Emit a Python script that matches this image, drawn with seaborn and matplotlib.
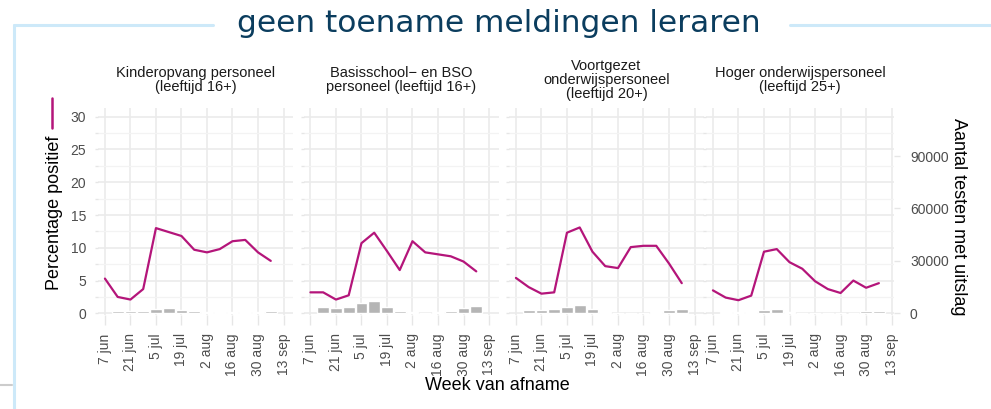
import pandas as pd
import numpy as np
import matplotlib.pyplot as plt
from matplotlib.lines import Line2D
from matplotlib.ticker import MultipleLocator
import seaborn as sns

# weekly data, week of sampling
weken = pd.date_range("2020-06-07", periods=14, freq="7D")
bar_weken = weken[1:]
tick_datums = pd.date_range("2020-06-07", periods=8, freq="14D")
tick_labels = ["7 jun", "21 jun", "5 jul", "19 jul", "2 aug", "16 aug", "30 aug", "13 sep"]

groepen = ["Kinderopvang personeel\n(leeftijd 16+)",
           "Basisschool\u2212 en BSO\npersoneel (leeftijd 16+)",
           "Voortgezet\nonderwijspersoneel\n(leeftijd 20+)",
           "Hoger onderwijspersoneel\n(leeftijd 25+)"]

# percentage positief
pct_kinderopvang = [5.3, 2.5, 2.1, 3.7, 13.0, 12.4, 11.8, 9.7, 9.3, 9.8, 11.0, 11.2, 9.3, 8.0]
pct_basis = [3.2, 3.2, 2.1, 2.75, 10.7, 12.3, 9.5, 6.6, 11.0, 9.3, 9.0, 8.7, 7.9, 6.4]
pct_vo = [5.4, 4.0, 3.0, 3.2, 12.3, 13.1, 9.4, 7.2, 6.9, 10.1, 10.3, 10.3, 7.6, 4.6]
pct_ho = [3.5, 2.4, 2.0, 2.7, 9.4, 9.8, 7.8, 6.8, 4.9, 3.7, 3.1, 5.0, 3.9, 4.6]

# aantal testen met uitslag
testen_kinderopvang = [1100, 1100, 1600, 2500, 3300, 2100, 1200, 650, 600, 600, 600, 650, 1100]
testen_basis = [3450, 3100, 3450, 5900, 7300, 3800, 1550, 560, 380, 560, 1350, 2900, 4000]
testen_vo = [1900, 1900, 2250, 3750, 4500, 2250, 560, 250, 250, 250, 560, 1700, 2600]
testen_ho = [750, 750, 750, 1700, 2250, 750, 400, 400, 400, 400, 400, 1100, 1100]

pct_series = [pct_kinderopvang, pct_basis, pct_vo, pct_ho]
testen_series = [testen_kinderopvang, testen_basis, testen_vo, testen_ho]

lijnen = pd.concat([pd.DataFrame({"groep": g, "week": weken, "pct": p})
                    for g, p in zip(groepen, pct_series)])
staven = pd.concat([pd.DataFrame({"groep": g, "week": bar_weken, "testen": t})
                    for g, t in zip(groepen, testen_series)])

SCHAAL = 3750  # secondary axis: testen = pct * SCHAAL
MAGENTA = "#b4157a"
GRIJS = "#b5b5b5"

sns.set_theme(style="whitegrid")
plt.rcParams["font.family"] = ["Liberation Sans", "DejaVu Sans"]

W, H = 991, 409
fig = plt.figure(figsize=(W / 100, H / 100), dpi=100)

links = [98, 303.5, 509, 706]
breedtes = [195, 195, 195, 188]
onder, boven = 314.5, 108.3

x_lo = weken[0] - pd.Timedelta(days=3.8)
x_his = [tick_datums[-1] + pd.Timedelta(days=d) for d in (5.2, 5.2, 5.2, 1.3)]

for i, (g, x0) in enumerate(zip(groepen, links)):
    ax = fig.add_axes([x0 / W, 1 - onder / H, breedtes[i] / W, (onder - boven) / H])
    sub_b = staven[staven.groep == g]
    ax.bar(sub_b.week, sub_b.testen / SCHAAL, width=6.4, color=GRIJS, zorder=2)
    sub_l = lijnen[lijnen.groep == g]
    sns.lineplot(data=sub_l, x="week", y="pct", ax=ax, color=MAGENTA, lw=1.6, zorder=3)

    ax.set_xlim(x_lo, x_his[i])
    ax.set_ylim(-0.18, 31.28)
    ax.set_xticks(tick_datums)
    ax.set_xticklabels(tick_labels, rotation=90)
    ax.set_yticks(range(0, 31, 5))
    ax.yaxis.set_minor_locator(MultipleLocator(2.5))
    ax.grid(which="major", color="#ebebeb", lw=1.2)
    ax.grid(which="minor", axis="y", color="#f3f3f3", lw=0.9)
    ax.grid(which="minor", axis="x", visible=False)
    for s in ax.spines.values():
        s.set_visible(False)
    ax.set_xlabel("")
    ax.set_ylabel("")
    ax.tick_params(axis="x", which="major", length=7, width=1, color="#e6e6e6",
                   labelsize=10, labelcolor="#4d4d4d", pad=6.5, bottom=True)
    ax.tick_params(axis="y", which="both", length=2, width=1, color="#e6e6e6",
                   labelsize=10, labelcolor="#4d4d4d", pad=6.5, left=True)
    if i > 0:
        ax.tick_params(axis="y", labelleft=False)

    ax.text(0.5, 1 + (boven - 80) / (onder - boven), g, transform=ax.transAxes,
            ha="center", va="center", fontsize=10.5, color="#1a1a1a", linespacing=1.0)

    if i == 3:
        sec = ax.secondary_yaxis("right", functions=(lambda y: y * SCHAAL, lambda y: y / SCHAAL))
        sec.set_yticks([0, 30000, 60000, 90000])
        sec.tick_params(length=4, width=1, color="#e6e6e6", labelsize=10,
                        labelcolor="#4d4d4d", pad=7.5)
        for s in sec.spines.values():
            s.set_visible(False)

# titles and axis labels
fig.text(499 / W, 1 - 23 / H, "geen toename meldingen leraren", ha="center", va="center",
         fontsize=22.5, color="#0b3d5e", family="DejaVu Sans")
fig.text(55 / W, 1 - 213 / H, "Percentage positief", rotation=90, ha="center", va="center",
         fontsize=13, color="black")
fig.add_artist(Line2D([52 / W, 52 / W], [1 - 98 / H, 1 - 128 / H], color=MAGENTA, lw=1.8))
fig.text(958 / W, 1 - 217 / H, "Aantal testen met uitslag", rotation=270, ha="center",
         va="center", fontsize=13, color="black")
fig.text(497 / W, 1 - 385 / H, "Week van afname", ha="center", va="center",
         fontsize=13, color="black")

# slide decoration
blauw = "#cde9f9"
fig.add_artist(Line2D([14 / W, 213 / W], [1 - 25 / H] * 2, color=blauw, lw=2.2))
fig.add_artist(Line2D([790 / W, 1.0], [1 - 25 / H] * 2, color=blauw, lw=2.2))
fig.add_artist(Line2D([14 / W, 14 / W], [1 - 25 / H, 0], color=blauw, lw=2.2))
fig.add_artist(Line2D([0, 12 / W], [1 - 385 / H] * 2, color="#cccccc", lw=1.5))

fig.savefig("out.png", dpi=100)
